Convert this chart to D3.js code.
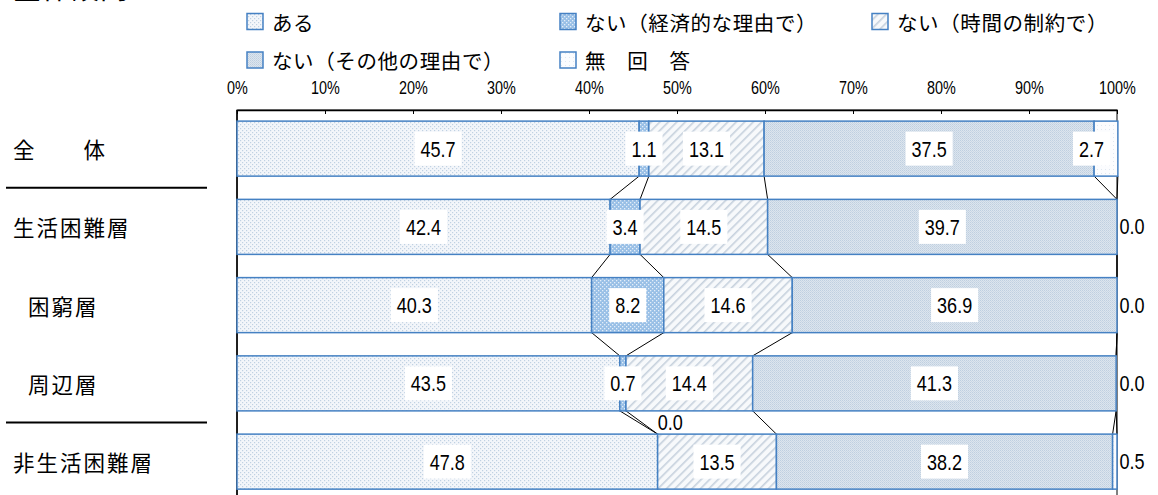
<!DOCTYPE html>
<html><head><meta charset="utf-8">
<script src="https://cdn.jsdelivr.net/npm/d3@7"></script>
<style>
html,body{margin:0;padding:0;background:#fff;overflow:hidden;}
svg{display:block;}
</style></head>
<body>
<svg id="chart" width="1158" height="495"></svg>
<script>
// ---------------- data ----------------
const categories = ["全　　体", "生活困難層", "困窮層", "周辺層", "非生活困難層"];
const subCategories = ["困窮層", "周辺層"];
const seriesNames = ["ある", "ない（経済的な理由で）", "ない（時間の制約で）", "ない（その他の理由で）", "無　回　答"];
const aru      = [45.7, 42.4, 40.3, 43.5, 47.8];
const keizai   = [1.1, 3.4, 8.2, 0.7, 0.0];
const jikan    = [13.1, 14.5, 14.6, 14.4, 13.5];
const sonota   = [37.5, 39.7, 36.9, 41.3, 38.2];
const mukaitou = [2.7, 0.0, 0.0, 0.0, 0.5];
const tickValues = [0, 10, 20, 30, 40, 50, 60, 70, 80, 90, 100];
const tickLabels = ["0%", "10%", "20%", "30%", "40%", "50%", "60%", "70%", "80%", "90%", "100%"];
const titleText = "中学生全体設問";

// ---------------- setup ----------------
const seriesValues = [aru, keizai, jikan, sonota, mukaitou];
const keys = seriesNames;
const rows = categories.map((c, i) => {
  const o = {cat: c};
  keys.forEach((k, j) => o[k] = seriesValues[j][i]);
  return o;
});
const stacked = d3.stack().keys(keys)(rows);

const svg = d3.select("#chart");
const x = d3.scaleLinear().domain([0, 100]).range([237, 1117]);
const y = d3.scaleBand().domain(categories).range([109.5, 500.75]).paddingInner(0.297).paddingOuter(0.1485);

const LATIN = "'Liberation Sans', Arial, sans-serif";
const CJK = "'Noto Sans CJK JP', 'Noto Sans CJK SC', sans-serif";
const NARROW = 0.84;

// ---------------- patterns ----------------
const defs = svg.append("defs");
function pat(id, w, h, build, rot) {
  const p = defs.append("pattern").attr("id", id).attr("patternUnits", "userSpaceOnUse")
    .attr("width", w).attr("height", h);
  if (rot) p.attr("patternTransform", "rotate(" + rot + ")");
  build(p);
}
pat("pA", 4, 4, p => {
  p.append("rect").attr("width", 4).attr("height", 4).attr("fill", "#f3f6fa");
  p.append("rect").attr("x", 0).attr("y", 0).attr("width", 1.2).attr("height", 1.2).attr("fill", "#c0d1e2");
  p.append("rect").attr("x", 2).attr("y", 2).attr("width", 1.2).attr("height", 1.2).attr("fill", "#c0d1e2");
});
pat("pB", 4, 4, p => {
  p.append("rect").attr("width", 4).attr("height", 4).attr("fill", "#98bfe6");
  p.append("rect").attr("x", 0).attr("y", 0).attr("width", 1.3).attr("height", 1.3).attr("fill", "#e4eef9");
  p.append("rect").attr("x", 2).attr("y", 2).attr("width", 1.3).attr("height", 1.3).attr("fill", "#e4eef9");
});
pat("pC", 6, 6, p => {
  p.append("rect").attr("width", 6).attr("height", 6).attr("fill", "#f7f9fb");
  p.append("rect").attr("x", 0).attr("y", 0).attr("width", 1.6).attr("height", 6).attr("fill", "#c6d1dd");
}, 45);
pat("pD", 2, 2, p => {
  p.append("rect").attr("width", 2).attr("height", 2).attr("fill", "#dce5ee");
  p.append("rect").attr("x", 0).attr("y", 0).attr("width", 1).attr("height", 1).attr("fill", "#bfcfe0");
  p.append("rect").attr("x", 1).attr("y", 1).attr("width", 1).attr("height", 1).attr("fill", "#cad7e5");
});
pat("pE", 4, 4, p => {
  p.append("rect").attr("width", 4).attr("height", 4).attr("fill", "#fbfcfe");
  p.append("rect").attr("x", 1).attr("y", 1).attr("width", 1).attr("height", 1).attr("fill", "#dfe7f0");
});
const fills = ["url(#pA)", "url(#pB)", "url(#pC)", "url(#pD)", "url(#pE)"];
const STROKE = "#4581c3";

// ---------------- title (cut off at top, as in the source) ----------------
svg.append("text").attr("x", -74).attr("y", -1).attr("font-family", CJK).attr("font-size", 28)
  .attr("letter-spacing", 1).attr("fill", "#000").text(titleText);

// ---------------- legend ----------------
const legendPos = [[247, 21.5], [560, 21.5], [872, 21.5], [247, 60], [560, 60]];
const lg = svg.append("g");
keys.forEach((k, i) => {
  const [lx, ly] = legendPos[i];
  lg.append("rect").attr("x", lx).attr("y", ly - 8).attr("width", 16).attr("height", 16)
    .attr("fill", fills[i]).attr("stroke", STROKE).attr("stroke-width", 1.5);
  lg.append("text").attr("x", lx + 25).attr("y", ly).attr("dominant-baseline", "central")
    .attr("font-family", CJK).attr("font-size", 20.5).attr("letter-spacing", 0.6).attr("fill", "#000").text(k);
});

// ---------------- frame & axes ----------------
svg.append("rect").attr("x", x(0)).attr("y", 110).attr("width", x(100) - x(0)).attr("height", 400)
  .attr("fill", "none").attr("stroke", "#000").attr("stroke-width", 1);

const axis = d3.axisTop(x).tickValues(tickValues).tickFormat((d, i) => tickLabels[i])
  .tickSizeInner(-4).tickSizeOuter(0).tickPadding(16.5);
const ag = svg.append("g").attr("transform", "translate(0,110)").call(axis);
ag.select(".domain").attr("stroke", "#000").attr("stroke-width", 1.5);
ag.selectAll(".tick line").attr("stroke", "#000").attr("stroke-width", 1);
ag.selectAll(".tick text").attr("font-family", LATIN).attr("font-size", 18).attr("fill", "#000")
  .attr("transform", "scale(0.8,1)");

svg.append("line").attr("x1", x(0)).attr("x2", x(0)).attr("y1", 110).attr("y2", 495)
  .attr("stroke", "#000").attr("stroke-width", 1.5);

// ---------------- series lines ----------------
const sl = svg.append("g").attr("stroke", "#000").attr("stroke-width", 1);
for (let i = 0; i < categories.length - 1; i++) {
  stacked.forEach(s => {
    const a = s[i][1], b = s[i + 1][1];
    sl.append("line")
      .attr("x1", x(a)).attr("y1", y(categories[i]) + y.bandwidth())
      .attr("x2", x(b)).attr("y2", y(categories[i + 1]));
  });
}

// ---------------- bars ----------------
const bars = svg.append("g");
stacked.forEach((s, si) => {
  bars.selectAll(null).data(s).enter().append("rect")
    .attr("x", d => x(d[0]))
    .attr("y", (d, i) => y(categories[i]))
    .attr("width", d => Math.max(0, x(d[1]) - x(d[0])))
    .attr("height", y.bandwidth())
    .attr("fill", fills[si]).attr("stroke", STROKE).attr("stroke-width", 1.5);
});

// ---------------- data labels ----------------
const lab = svg.append("g");
const LFS = 21.5;
function numText(g, tx, ty, str, anchor) {
  const t = g.append("g").attr("transform", "translate(" + tx + "," + ty + ") scale(" + NARROW + ",1)");
  return t.append("text").attr("x", 0).attr("y", 0).attr("text-anchor", anchor)
    .attr("dominant-baseline", "central").attr("font-family", LATIN).attr("font-size", LFS)
    .attr("fill", "#000").text(str);
}
stacked.forEach((s, si) => {
  s.forEach((d, i) => {
    const v = seriesValues[si][i];
    const str = v.toFixed(1);
    const cy = y(categories[i]) + y.bandwidth() / 2;
    const last = si === keys.length - 1;
    if (last && v < 1) {
      numText(lab, x(100) + 2.5, cy, str, "start");
    } else if (v === 0) {
      numText(lab, x(d[0]), y(categories[i]) - 11.5, str, "start");
    } else {
      let cx = (x(d[0]) + x(d[1])) / 2;
      const tmp = numText(lab, 0, -100, str, "middle");
      const tw = tmp.node().getComputedTextLength() * NARROW;
      tmp.node().parentNode.remove();
      const bw = tw + 12, bh = 34;
      if (cx + bw / 2 > x(100) - 7) cx = x(100) - 7 - bw / 2;
      lab.append("rect").attr("x", cx - bw / 2).attr("y", cy - bh / 2).attr("width", bw).attr("height", bh)
        .attr("fill", "#fff");
      numText(lab, cx, cy + 0.5, str, "middle");
    }
  });
});

// ---------------- category labels ----------------
const cl = svg.append("g");
categories.forEach(c => {
  cl.append("text").attr("x", subCategories.includes(c) ? 28 : 13)
    .attr("y", y(c) + y.bandwidth() / 2).attr("dominant-baseline", "central")
    .attr("font-family", CJK).attr("font-size", 21.5).attr("letter-spacing", 2)
    .attr("fill", "#000").text(c);
});
// group separators
[0, 3].forEach(i => {
  const yy = (y(categories[i]) + y.bandwidth() + y(categories[i + 1])) / 2;
  cl.append("line").attr("x1", 6).attr("x2", 207).attr("y1", yy).attr("y2", yy)
    .attr("stroke", "#000").attr("stroke-width", 2);
});
</script>
</body></html>
